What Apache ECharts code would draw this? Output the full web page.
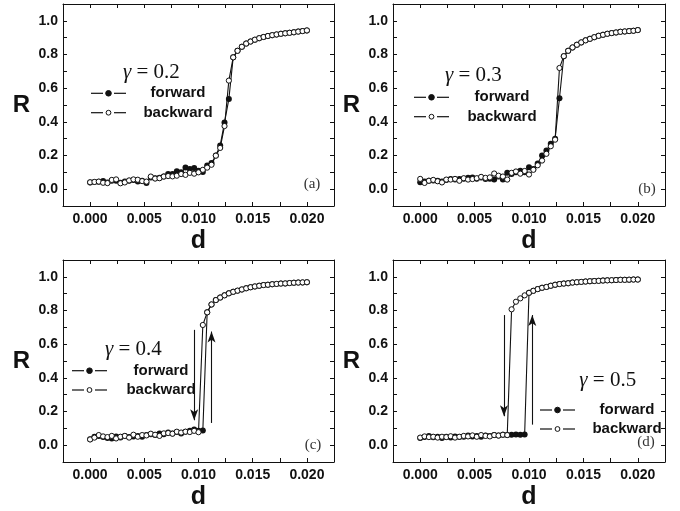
<!DOCTYPE html>
<html><head><meta charset="utf-8">
<script src="https://cdn.jsdelivr.net/npm/echarts@6/dist/echarts.min.js"></script>
<style>html,body{margin:0;padding:0;background:#fff}#c{width:680px;height:511px}</style>
</head><body><div id="c"></div>
<script>
// ---------- data ----------
const dValues = [0,0.0004,0.0008,0.0012,0.0016,0.002,0.0024,0.0028,0.0032,0.0036,0.004,0.0044,0.0048,0.0052,0.0056,0.006,0.0064,0.0068,0.0072,0.0076,0.008,0.0084,0.0088,0.0092,0.0096,0.01,0.0104,0.0108,0.0112,0.0116,0.012,0.0124,0.0128,0.0132,0.0136,0.014,0.0144,0.0148,0.0152,0.0156,0.016,0.0164,0.0168,0.0172,0.0176,0.018,0.0184,0.0188,0.0192,0.0196,0.02];

const forwardA = [0.040,0.042,0.044,0.048,0.040,0.050,0.050,0.038,0.045,0.050,0.055,0.045,0.050,0.037,0.070,0.065,0.068,0.075,0.090,0.090,0.106,0.100,0.128,0.120,0.126,0.110,0.102,0.140,0.155,
  0.200,0.260,0.396,0.535,
  0.783,0.822,0.846,0.865,0.877,0.888,0.897,0.904,0.910,0.915,0.919,0.923,0.926,0.929,0.932,0.936,0.939,0.943];
const backwardA = [0.041,0.043,0.045,0.038,0.036,0.055,0.058,0.035,0.040,0.052,0.058,0.056,0.048,0.045,0.075,0.063,0.065,0.075,0.078,0.076,0.080,0.090,0.085,0.097,0.092,0.100,0.115,0.128,0.145,
  0.199,0.245,0.375,0.645,
  0.783,0.822,0.846,0.865,0.877,0.888,0.897,0.904,0.910,0.915,0.919,0.923,0.926,0.929,0.932,0.936,0.939,0.943];

const forwardB = [0.041,0.045,0.050,0.052,0.050,0.045,0.055,0.060,0.058,0.060,0.062,0.068,0.069,0.062,0.070,0.060,0.062,0.057,0.075,0.057,0.097,0.090,0.100,0.110,0.100,0.130,0.120,0.152,0.200,0.230,0.270,0.300,
  0.540,
  0.790,0.822,0.842,0.858,0.872,0.884,0.893,0.903,0.911,0.917,0.923,0.927,0.931,0.935,0.937,0.939,0.941,0.945];
const backwardB = [0.061,0.037,0.050,0.055,0.047,0.040,0.057,0.057,0.061,0.050,0.065,0.057,0.060,0.065,0.073,0.067,0.070,0.093,0.080,0.075,0.057,0.097,0.105,0.092,0.108,0.087,0.115,0.142,0.170,0.210,0.255,0.294,
  0.720,
  0.790,0.822,0.842,0.858,0.872,0.884,0.893,0.903,0.911,0.917,0.923,0.927,0.931,0.935,0.937,0.939,0.941,0.945];

const forwardC = [0.035,0.050,0.055,0.048,0.043,0.040,0.052,0.045,0.055,0.048,0.052,0.055,0.050,0.060,0.065,0.060,0.070,0.065,0.075,0.070,0.078,0.070,0.080,0.085,0.093,0.085,0.087,
  0.789,0.836,0.862,0.877,0.890,0.902,0.911,0.918,0.925,0.932,0.938,0.943,0.947,0.951,0.953,0.956,0.958,0.960,0.961,0.963,0.965,0.966,0.967,0.968];
const backwardC = [0.034,0.045,0.060,0.052,0.048,0.055,0.040,0.050,0.055,0.045,0.062,0.050,0.060,0.058,0.068,0.062,0.055,0.070,0.072,0.068,0.080,0.075,0.080,0.078,0.085,0.077,
  0.714,
  0.789,0.836,0.862,0.877,0.890,0.902,0.911,0.918,0.925,0.932,0.938,0.943,0.947,0.951,0.953,0.956,0.958,0.960,0.961,0.963,0.965,0.966,0.967,0.968];

const forwardD = [0.042,0.048,0.055,0.047,0.050,0.043,0.050,0.046,0.052,0.048,0.050,0.058,0.052,0.055,0.050,0.058,0.055,0.060,0.058,0.062,0.060,0.062,0.063,0.062,0.064,
  0.905,0.917,0.927,0.935,0.940,0.947,0.953,0.957,0.960,0.962,0.966,0.968,0.970,0.972,0.974,0.975,0.976,0.978,0.979,0.980,0.981,0.982,0.982,0.983,0.984,0.984];
const backwardD = [0.045,0.052,0.048,0.050,0.045,0.050,0.048,0.053,0.045,0.050,0.055,0.052,0.058,0.050,0.060,0.055,0.052,0.060,0.057,0.062,0.060,
  0.807,0.852,0.872,0.890,0.905,0.917,0.927,0.935,0.940,0.947,0.953,0.957,0.960,0.962,0.966,0.968,0.970,0.972,0.974,0.975,0.976,0.978,0.979,0.980,0.981,0.982,0.982,0.983,0.984,0.984];

// arrows: [d, R start, R end]
const arrowsA = [];
const arrowsB = [];
const arrowsC = [[0.0096,0.685,0.148],[0.0112,0.132,0.675]];
const arrowsD = [[0.0077,0.773,0.172],[0.0103,0.122,0.773]];

const xTickLabels = ['0.000','0.005','0.010','0.015','0.020'];
const yTickLabels = ['0.0','0.2','0.4','0.6','0.8','1.0'];
const gammaValues = ['0.2','0.3','0.4','0.5'];
const panelLetters = ['(a)','(b)','(c)','(d)'];
const seriesNames = ['forward','backward'];
const xAxisTitle = 'd';
const yAxisTitle = 'R';

// ---------- layout ----------
const INK = '#111';
const SANS = '"Liberation Sans", Arial, sans-serif';
const SERIF = '"Liberation Serif", "Times New Roman", serif';
const panels = [
  {grid:{left:63, top:4, width:271, height:202}, fw:forwardA, bw:backwardA, arrows:arrowsA,
   gamma:[123,72.7], letter:[312,184], leg:{x0:91, y1:93.3, y2:112.7, tc:178}},
  {grid:{left:393, top:4, width:272, height:202}, fw:forwardB, bw:backwardB, arrows:arrowsB,
   gamma:[445,75], letter:[647,189], leg:{x0:414, y1:97.3, y2:116.7, tc:502}},
  {grid:{left:63, top:260, width:271, height:202}, fw:forwardC, bw:backwardC, arrows:arrowsC,
   gamma:[105,349.3], letter:[313,445], leg:{x0:72, y1:370.7, y2:390, tc:161}},
  {grid:{left:393, top:260, width:272, height:202}, fw:forwardD, bw:backwardD, arrows:arrowsD,
   gamma:[579.3,380], letter:[646,442], leg:{x0:540, y1:410, y2:429, tc:627}}
];

function clean(v){ return Math.abs(v) < 1e-9 ? 0 : v; }
const xLabelFmt = v => { const s = clean(v).toFixed(3); return xTickLabels.includes(s) ? s : ''; };
const yLabelFmt = v => { const s = clean(v).toFixed(1); return yTickLabels.includes(s) ? s : ''; };

const grids = [], xAxes = [], yAxes = [], series = [], graphics = [];
const axisLine = {show:true, onZero:false, lineStyle:{color:INK, width:1}};
const tickStyle = {show:true, inside:true, length:4, lineStyle:{color:INK, width:1}};
const labelStyle = {color:INK, fontFamily:SANS, fontWeight:'bold', fontSize:14};

panels.forEach((p, i) => {
  grids.push(Object.assign({containLabel:false}, p.grid));
  const xBase = {type:'value', gridIndex:i, min:-0.0025, max:0.0225, interval:0.0025,
    axisLine, axisTick:tickStyle, splitLine:{show:false}};
  xAxes.push(Object.assign({}, xBase, {position:'bottom',
    axisLabel:Object.assign({show:true, margin:6, formatter:xLabelFmt, showMinLabel:true, showMaxLabel:true}, labelStyle),
    name:xAxisTitle, nameLocation:'middle', nameGap:23,
    nameTextStyle:{color:INK, fontFamily:SANS, fontWeight:'bold', fontSize:25}}));
  xAxes.push(Object.assign({}, xBase, {position:'top', axisLabel:{show:false}}));
  const yBase = {type:'value', gridIndex:i, min:-0.1, max:1.1, interval:0.1,
    axisLine, axisTick:tickStyle, splitLine:{show:false}};
  yAxes.push(Object.assign({}, yBase, {position:'left',
    axisLabel:Object.assign({show:true, margin:5, formatter:yLabelFmt}, labelStyle),
    name:yAxisTitle, nameLocation:'middle', nameRotate:0, nameGap:33,
    nameTextStyle:{color:INK, fontFamily:SANS, fontWeight:'bold', fontSize:24}}));
  yAxes.push(Object.assign({}, yBase, {position:'right', axisLabel:{show:false}}));

  const fwData = dValues.map((d, k) => [d, p.fw[k]]);
  const bwData = dValues.map((d, k) => [d, p.bw[k]]);
  const fwSeries = {
    name:seriesNames[0], type:'line', xAxisIndex:2*i, yAxisIndex:2*i, data:fwData,
    symbol:'circle', symbolSize:6, showAllSymbol:true, animation:false, silent:true,
    lineStyle:{color:INK, width:1.1}, itemStyle:{color:INK, borderWidth:0}, z:2
  };
  if (p.arrows.length) {
    fwSeries.markLine = {
      silent:true, animation:false, symbol:['none','arrow'], symbolSize:[6, 11],
      label:{show:false}, emphasis:{disabled:true},
      lineStyle:{color:INK, width:1.1, type:'solid'},
      data: p.arrows.map(a => [{coord:[a[0], a[1]]}, {coord:[a[0], a[2]]}])
    };
  }
  series.push(fwSeries);
  series.push({
    name:seriesNames[1], type:'line', xAxisIndex:2*i, yAxisIndex:2*i, data:bwData,
    symbol:'circle', symbolSize:5.2, showAllSymbol:true, animation:false, silent:true,
    lineStyle:{color:INK, width:1.1}, itemStyle:{color:'#fff', borderColor:INK, borderWidth:1}, z:3
  });

  // gamma label
  graphics.push({type:'text', x:p.gamma[0], y:p.gamma[1], silent:true,
    style:{text:'{g|γ} = ' + gammaValues[i], fontSize:21, fontFamily:SERIF, fill:INK,
      align:'left', verticalAlign:'middle', textAlign:'left', textVerticalAlign:'middle',
      rich:{g:{fontStyle:'italic', fontSize:21, fontFamily:SERIF, fill:INK}}}});
  // panel letter
  graphics.push({type:'text', x:p.letter[0], y:p.letter[1], silent:true,
    style:{text:panelLetters[i], fontSize:15, fontFamily:SERIF, fill:'#333',
      align:'center', verticalAlign:'middle', textAlign:'center', textVerticalAlign:'middle'}});
  // legend
  const L = p.leg;
  [[L.y1, true, seriesNames[0]], [L.y2, false, seriesNames[1]]].forEach(([y, filled, label]) => {
    graphics.push({type:'line', silent:true, shape:{x1:L.x0, y1:y, x2:L.x0+12, y2:y}, style:{stroke:INK, lineWidth:1.2}});
    graphics.push({type:'line', silent:true, shape:{x1:L.x0+23, y1:y, x2:L.x0+35, y2:y}, style:{stroke:INK, lineWidth:1.2}});
    graphics.push({type:'circle', silent:true, shape:{cx:L.x0+17.5, cy:y, r:filled ? 2.8 : 2.4},
      style:{fill:filled ? INK : '#fff', stroke:INK, lineWidth:1}});
    graphics.push({type:'text', silent:true, x:L.tc, y:y,
      style:{text:label, fontSize:15, fontWeight:'bold', fontFamily:SANS, fill:INK,
        align:'center', verticalAlign:'middle', textAlign:'center', textVerticalAlign:'middle'}});
  });
});

const chart = echarts.init(document.getElementById('c'), null, {renderer:'canvas'});
chart.setOption({
  backgroundColor:'#fff',
  animation:false,
  grid:grids, xAxis:xAxes, yAxis:yAxes, series:series,
  graphic:{elements:graphics}
});
</script></body></html>
